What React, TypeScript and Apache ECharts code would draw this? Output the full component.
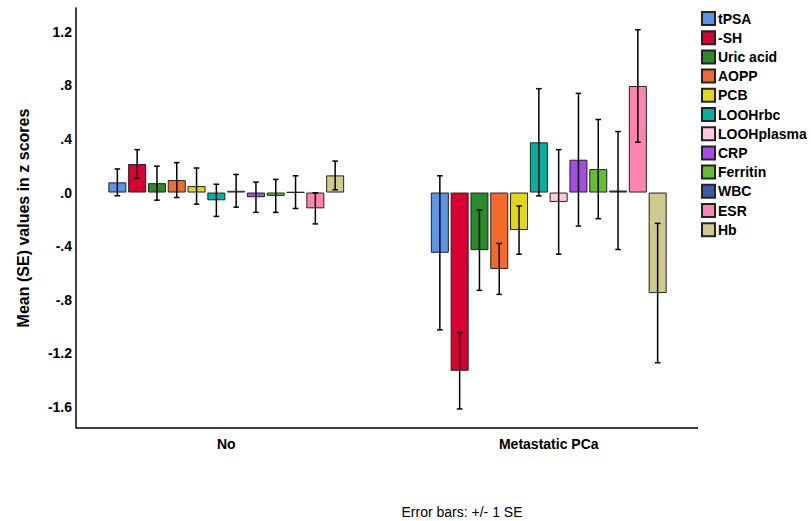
import React, { useEffect, useRef } from "react";
import * as echarts from "echarts";

const categories = ["No", "Metastatic PCa"];
const metrics = ["tPSA", "-SH", "Uric acid", "AOPP", "PCB", "LOOHrbc", "LOOHplasma", "CRP", "Ferritin", "WBC", "ESR", "Hb"];
const colors = ["#5B95E5", "#D80032", "#2B8A2A", "#F36A2B", "#E2D616", "#00B3A1", "#FFC8E4", "#A84BE6", "#64C032", "#3B5BA8", "#FF85B1", "#D0CA8E"];
const meansNo = [0.076, 0.213, 0.07, 0.093, 0.048, -0.058, 0.013, -0.035, -0.025, 0.003, -0.118, 0.128];
const seNo = [0.1, 0.107, 0.127, 0.13, 0.135, 0.12, 0.122, 0.113, 0.123, 0.122, 0.116, 0.107];
const meansMet = [-0.45, -1.33, -0.43, -0.57, -0.28, 0.375, -0.07, 0.245, 0.175, 0.015, 0.795, -0.75];
const seMet = [0.575, 0.285, 0.3, 0.19, 0.18, 0.4, 0.39, 0.495, 0.37, 0.44, 0.42, 0.52];
const yTicks = [-1.6, -1.2, -0.8, -0.4, 0, 0.4, 0.8, 1.2];

const FONT = "'Liberation Sans', Arial, sans-serif";
const BAR_W = 18;
const BAR_GAP = 1.8;

export default function App() {
  const ref = useRef<HTMLDivElement>(null);
  useEffect(() => {
    if (!ref.current) return;
    const chart = echarts.init(ref.current, null, { renderer: "svg" });
    const n = metrics.length;
    const barSeries = metrics.map((m, i) => ({
      type: "bar",
      name: m,
      data: [meansNo[i], meansMet[i]],
      barWidth: BAR_W,
      barGap: "10%",
      itemStyle: { color: colors[i], borderColor: "#222", borderWidth: 1 },
      z: 2,
    }));
    const errSeries = metrics.map((m, i) => ({
      type: "custom",
      name: m,
      data: [
        [0, meansNo[i] - seNo[i], meansNo[i] + seNo[i]],
        [1, meansMet[i] - seMet[i], meansMet[i] + seMet[i]],
      ],
      z: 5,
      renderItem: (params: any, api: any) => {
        const cat = api.value(0);
        const lo = api.coord([cat, api.value(1)]);
        const hi = api.coord([cat, api.value(2)]);
        const x = lo[0] + (i - (n - 1) / 2) * (BAR_W + BAR_GAP);
        const cap = 2.8;
        const style = { stroke: "#000", lineWidth: 1.5 };
        return {
          type: "group",
          children: [
            { type: "line", shape: { x1: x, y1: hi[1], x2: x, y2: lo[1] }, style },
            { type: "line", shape: { x1: x - cap, y1: hi[1], x2: x + cap, y2: hi[1] }, style },
            { type: "line", shape: { x1: x - cap, y1: lo[1], x2: x + cap, y2: lo[1] }, style },
          ],
        };
      },
    }));
    chart.setOption({
      animation: false,
      backgroundColor: "#fff",
      grid: { left: 65, right: 101, top: 8, bottom: 93, containLabel: false },
      legend: {
        data: metrics,
        orient: "vertical",
        left: 701,
        top: 11,
        itemWidth: 13,
        itemHeight: 13,
        itemGap: 4.2,
        padding: 0,
        icon: "rect",
        textStyle: { fontFamily: FONT, fontWeight: "bold", fontSize: 14, color: "#000", padding: [0, 0, 0, -2] },
      },
      xAxis: {
        type: "category",
        data: categories,
        axisLine: { show: false },
        axisTick: { show: false },
        axisLabel: { fontFamily: FONT, fontWeight: "bold", fontSize: 14, color: "#000", margin: 9 },
      },
      yAxis: {
        type: "value",
        min: -1.757,
        max: 1.377,
        offset: -11,
        splitLine: { show: false },
        axisTick: { show: false },
        axisLine: { show: true, lineStyle: { color: "#000", width: 1.5 } },
        axisLabel: {
          customValues: yTicks,
          fontFamily: FONT,
          fontWeight: "bold",
          fontSize: 14,
          color: "#000",
          margin: 4,
          formatter: (v: number) => v.toFixed(1).replace(/^(-?)0\./, "$1."),
        },
        name: "Mean (SE) values in z scores",
        nameLocation: "middle",
        nameGap: 45,
        nameTextStyle: { fontFamily: FONT, fontWeight: "bold", fontSize: 16, color: "#000" },
      },
      graphic: [
        { type: "line", shape: { x1: 76, y1: 428, x2: 698, y2: 428 }, style: { stroke: "#000", lineWidth: 1.5 } },
        {
          type: "text",
          x: 462,
          y: 512,
          style: { text: "Error bars: +/- 1 SE", fontFamily: FONT, fontSize: 14, fill: "#000", textAlign: "center", textVerticalAlign: "middle" },
        },
      ],
      series: [...barSeries, ...errSeries],
    });
    return () => chart.dispose();
  }, []);
  return <div ref={ref} style={{ position: "fixed", left: 0, top: 0, width: 811, height: 521 }} />;
}
